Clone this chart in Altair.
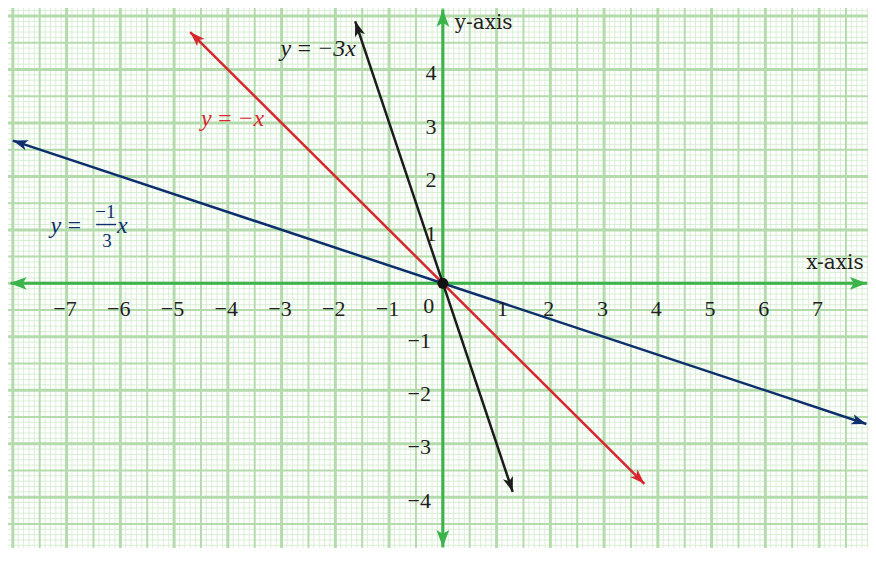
import math
import altair as alt
import pandas as pd

# ---------------- data ----------------
x_ticks = [-7, -6, -5, -4, -3, -2, -1, 1, 2, 3, 4, 5, 6, 7]
y_ticks = [-4, -3, -2, -1, 1, 2, 3, 4]

series_names = ["navy", "red", "black"]
series_x0 = [-8.0, -4.7, -1.63]
series_y0 = [2.67, 4.7, 4.9]
series_x1 = [7.88, 3.75, 1.3]
series_y1 = [-2.63, -3.75, -3.9]
series_colors = ["#0d2f6b", "#d7262e", "#1c1c1c"]

# ---------------- layout ----------------
XMIN, XMAX = -8.09, 7.91
YMIN, YMAX = -4.95, 5.15
W, H = 860, 540
UX = W / (XMAX - XMIN)
UY = H / (YMAX - YMIN)

GRID_MINOR = "#d9eed5"
GRID_MAJOR = "#b4dbac"
AXIS_GREEN = "#3cb44b"
TEXT = "#231f20"
SERIF = "Liberation Serif"

xs = alt.Scale(domain=[XMIN, XMAX], nice=False, zero=False)
ys = alt.Scale(domain=[YMIN, YMAX], nice=False, zero=False)


def X(f):
    return alt.X(f, type="quantitative", scale=xs, axis=None)


def Y(f):
    return alt.Y(f, type="quantitative", scale=ys, axis=None)


def angle_of(dx, dy):
    return math.degrees(math.atan2(dx * UX, dy * UY)) % 360


# grid lines
minor_v = [i / 10 for i in range(-80, 80) if i % 5 != 0]
mid_v = [i / 10 for i in range(-80, 80) if i % 5 == 0 and i % 10 != 0]
major_v = [i / 10 for i in range(-80, 80) if i % 10 == 0]
minor_h = [i / 10 for i in range(-49, 52) if i % 5 != 0]
mid_h = [i / 10 for i in range(-49, 52) if i % 5 == 0 and i % 10 != 0]
major_h = [i / 10 for i in range(-49, 52) if i % 10 == 0]


def vrules(vals, color, w):
    return alt.Chart(pd.DataFrame({"x": vals})).mark_rule(
        color=color, strokeWidth=w).encode(x=X("x"))


def hrules(vals, color, w):
    return alt.Chart(pd.DataFrame({"y": vals})).mark_rule(
        color=color, strokeWidth=w).encode(y=Y("y"))


grid = [
    vrules(minor_v, GRID_MINOR, 1), hrules(minor_h, GRID_MINOR, 1),
    vrules(mid_v, GRID_MAJOR, 2), hrules(mid_h, GRID_MAJOR, 2),
    vrules(major_v, GRID_MAJOR, 3), hrules(major_h, GRID_MAJOR, 3),
]

# axes
axis_df = pd.DataFrame({
    "x": [XMIN + 0.05, 0.0], "y": [0.0, YMIN + 0.02],
    "x2": [XMAX - 0.02, 0.0], "y2": [0.0, YMAX - 0.03],
})
axes = alt.Chart(axis_df).mark_rule(color=AXIS_GREEN, strokeWidth=3).encode(
    x=X("x"), y=Y("y"), x2="x2", y2="y2")

ARROW_AX = "M0,0 L0.75,2 L0,1.55 L-0.75,2 Z"
ARROW_LN = "M0,0 L0.7,2 L0,1.5 L-0.7,2 Z"

ax_arrows = pd.DataFrame({
    "x": [XMIN + 0.03, XMAX - 0.02, 0.0, 0.0],
    "y": [0.0, 0.0, YMAX - 0.03, YMIN + 0.02],
    "angle": [angle_of(-1, 0), angle_of(1, 0), angle_of(0, 1), angle_of(0, -1)],
})
axis_heads = alt.Chart(ax_arrows).mark_point(
    shape=ARROW_AX, filled=True, size=290, opacity=1, color=AXIS_GREEN
).encode(x=X("x"), y=Y("y"), angle=alt.Angle("angle:Q", scale=None))

# function lines
rows = []
head_rows = []
for n, x0, y0, x1, y1 in zip(series_names, series_x0, series_y0, series_x1, series_y1):
    rows.append({"s": n, "x": x0, "y": y0, "o": 0})
    rows.append({"s": n, "x": x1, "y": y1, "o": 1})
    head_rows.append({"s": n, "x": x0, "y": y0, "angle": angle_of(x0 - x1, y0 - y1)})
    head_rows.append({"s": n, "x": x1, "y": y1, "angle": angle_of(x1 - x0, y1 - y0)})

cscale = alt.Scale(domain=series_names, range=series_colors)
lines = alt.Chart(pd.DataFrame(rows)).mark_line(strokeWidth=2.5).encode(
    x=X("x"), y=Y("y"), order="o:Q",
    color=alt.Color("s:N", scale=cscale, legend=None))
heads = alt.Chart(pd.DataFrame(head_rows)).mark_point(
    shape=ARROW_LN, filled=True, size=225, opacity=1
).encode(x=X("x"), y=Y("y"), angle=alt.Angle("angle:Q", scale=None),
         color=alt.Color("s:N", scale=cscale, legend=None))

origin = alt.Chart(pd.DataFrame({"x": [0.0], "y": [0.0]})).mark_point(
    shape="circle", filled=True, size=120, opacity=1, color="#111111"
).encode(x=X("x"), y=Y("y"))

# tick labels
def lab(t):
    return ("\u2212" + str(-t)) if t < 0 else str(t)


xl = pd.DataFrame({
    "x": [t - 0.03 + (0.14 if t == 1 else 0) for t in x_ticks],
    "y": [-0.48] * len(x_ticks),
    "t": [lab(t) for t in x_ticks],
})
xlab = alt.Chart(xl).mark_text(font=SERIF, fontSize=22, color=TEXT,
                               align="center", baseline="middle").encode(
    x=X("x"), y=Y("y"), text="t:N")

yl = pd.DataFrame({
    "x": [(-0.12 if t > 0 else -0.22) for t in y_ticks],
    "y": [t - 0.07 for t in y_ticks],
    "t": [lab(t) for t in y_ticks],
})
ylab = alt.Chart(yl).mark_text(font=SERIF, fontSize=22, color=TEXT,
                               align="right", baseline="middle").encode(
    x=X("x"), y=Y("y"), text="t:N")

zero = alt.Chart(pd.DataFrame({"x": [-0.26], "y": [-0.43], "t": ["0"]})).mark_text(
    font=SERIF, fontSize=22, color=TEXT, align="center", baseline="middle"
).encode(x=X("x"), y=Y("y"), text="t:N")

axis_names = alt.Chart(pd.DataFrame({
    "x": [6.76, 0.22], "y": [0.38, 4.87], "t": ["x-axis", "y-axis"]})).mark_text(
    font="DejaVu Serif", fontSize=20, color=TEXT, align="left", baseline="middle"
).encode(x=X("x"), y=Y("y"), text="t:N")

# equation labels
def eq(x, y, t, color, size=23, align="left"):
    return alt.Chart(pd.DataFrame({"x": [x], "y": [y], "t": [t]})).mark_text(
        font=SERIF, fontSize=size, fontStyle="italic", color=color,
        align=align, baseline="middle").encode(x=X("x"), y=Y("y"), text="t:N")


SP = "\u2009"
eq_black = eq(-3.02, 4.39, "y" + SP + "=" + SP + "\u22123x", series_colors[2], size=24)
eq_red = eq(-4.5, 3.07, "y" + SP + "=" + SP + "\u2212x", series_colors[1], size=24)
eq_navy_a = eq(-7.3, 1.07, "y" + SP + "=", series_colors[0], size=24)
eq_navy_num = alt.Chart(pd.DataFrame({"x": [-6.28], "y": [1.33], "t": ["\u22121"]})).mark_text(
    font=SERIF, fontSize=19, color=series_colors[0], align="center", baseline="middle"
).encode(x=X("x"), y=Y("y"), text="t:N")
eq_navy_den = alt.Chart(pd.DataFrame({"x": [-6.25], "y": [0.8], "t": ["3"]})).mark_text(
    font=SERIF, fontSize=19, color=series_colors[0], align="center", baseline="middle"
).encode(x=X("x"), y=Y("y"), text="t:N")
eq_navy_bar = alt.Chart(pd.DataFrame({"x": [-6.45], "x2": [-6.08], "y": [1.1]})).mark_rule(
    color=series_colors[0], strokeWidth=1.4).encode(x=X("x"), x2="x2", y=Y("y"))
eq_navy_x = eq(-6.06, 1.07, "x", series_colors[0], size=24)

chart = alt.layer(
    *grid, axes, axis_heads, lines, heads, origin,
    xlab, ylab, zero, axis_names,
    eq_black, eq_red, eq_navy_a, eq_navy_num, eq_navy_den, eq_navy_bar, eq_navy_x,
).properties(
    width=W, height=H, padding=0, autosize="none", background="white"
).configure_view(strokeWidth=0)

chart.save("out.html", embed_options={"renderer": "svg", "actions": False})
